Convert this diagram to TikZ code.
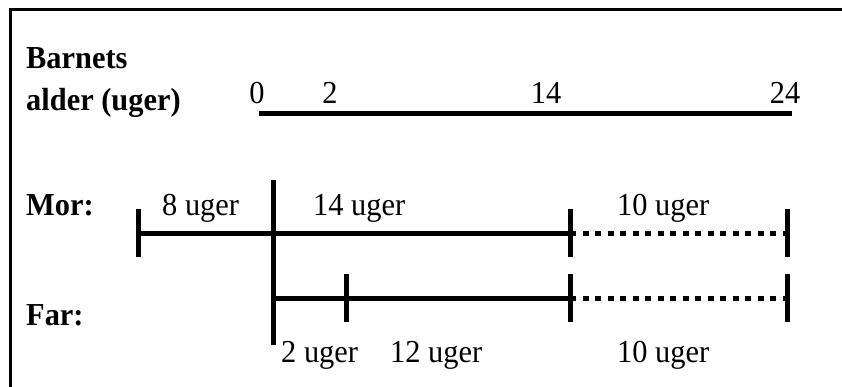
\documentclass[tikz,border=0pt]{standalone}
\usepackage{fontspec}
\setmainfont{Liberation Serif}[FakeStretch=0.95]
\usepackage{tikz}
\usetikzlibrary{calc,positioning}

\begin{document}
\begin{tikzpicture}[x=1pt,y=-1pt]
\tikzstyle{every node}=[inner sep=0pt, anchor=base west,
                        font=\fontsize{32}{38}\selectfont]
\tikzstyle{rowname}=[font=\fontsize{32}{38}\selectfont\bfseries]
\tikzstyle{bar}=[line width=5pt]
\tikzstyle{dotline}=[line width=5pt, dash pattern=on 6pt off 6.5pt]
\useasboundingbox (0,0) rectangle (842,387);
\draw[line width=3pt] (10,387) -- (10,10) -- (842,10);
\node[rowname] (barnets) at (26,69){Barnets};
\node[rowname] (alder) at (26,111){alder (uger)};
\node[rowname] (mor) at (26,215){Mor:};
\node[rowname] (far) at (26,325){Far:};
\foreach \n/\x in {0/257,2/330,14/546,24/785}{\node[anchor=base] (w\n) at (\x,104){\n};}
\coordinate (a0) at (259,114);
\coordinate (a24) at (792,114);
\draw[bar] (a0) -- (a24);
\coordinate (m0) at (138,233);
\coordinate (m8) at (273,233);
\coordinate (m22) at (570,233);
\coordinate (m32) at (787,233);
\coordinate (f0) at (273,298);
\coordinate (f2) at (346,298);
\coordinate (f14) at (570,298);
\coordinate (f24) at (787,298);
\coordinate (top) at (273,180);
\coordinate (bot) at (273,345);
\draw[bar] (m0) -- (m22);
\draw[bar] (f0) -- (f14);
\draw[dotline] (m22) -- (m32);
\draw[dotline] (f14) -- (f24);
\draw[bar] (top) -- (bot);
\foreach \i in {m0,m22,m32,f2,f14,f24}{\draw[bar] ($(\i)+(0,-24)$) -- ($(\i)+(0,24)$);}
\node (m1) at (162,215){8 uger};
\node (m2) at (313,215){14 uger};
\node (m3) at (617,215){10 uger};
\node (f1) at (281,362){2 uger};
\node (f2l) at (390,362){12 uger};
\node (f3) at (617,362){10 uger};
\end{tikzpicture}
\end{document}
